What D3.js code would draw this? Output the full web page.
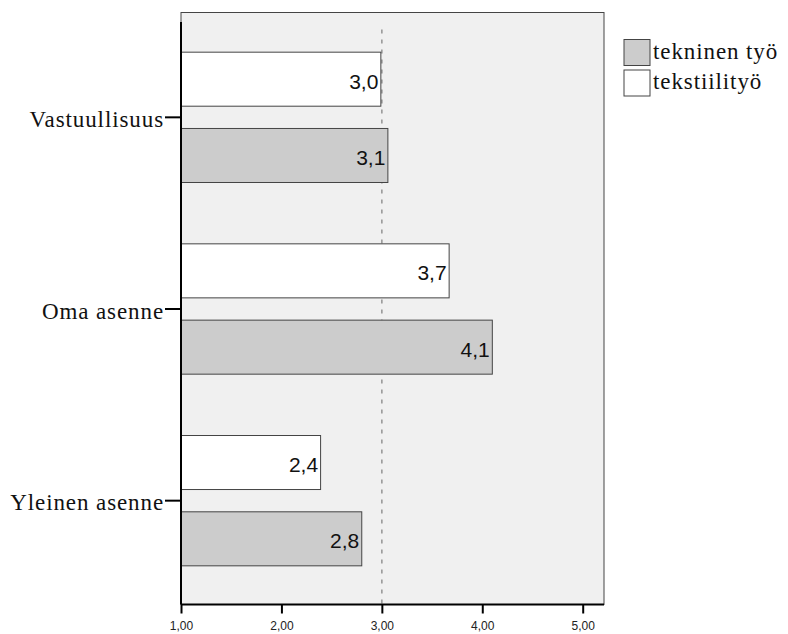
<!DOCTYPE html>
<html>
<head>
<meta charset="utf-8">
<script src="https://cdn.jsdelivr.net/npm/d3@7"></script>
<style>
  body { margin: 0; background: #fff; }
  svg { display: block; }
  .serif { font-family: "Liberation Serif", "Times New Roman", Times, serif; }
  .sans { font-family: "Liberation Sans", Arial, sans-serif; }
</style>
</head>
<body>
<div id="chart"></div>
<script>
// data
var categories = ["Vastuullisuus", "Oma asenne", "Yleinen asenne"];
var seriesNames = ["tekninen työ", "tekstiilityö"];
var tekninen = [3.06, 4.10, 2.80];
var tekstiili = [2.99, 3.67, 2.39];
var xTicks = [1, 2, 3, 4, 5];
var refValue = 3;

var svg = d3.select("#chart")
            .append("svg")
            .attr("width", 788)
            .attr("height", 634);

var x = d3.scaleLinear().domain([1, 5]).range([181, 582.7]);
var y = d3.scaleBand().domain(categories).range([21.5, 596.5]);
// white bar on top, gray bar below
var inner = d3.scaleBand()
              .domain(["tekstiilityö", "tekninen työ"])
              .range([0, y.bandwidth()])
              .paddingInner(0.292)
              .paddingOuter(0.402);

var fills = {"tekninen työ": "#cccccc", "tekstiilityö": "#ffffff"};

var plotLeft = 181, plotRight = 604, plotTop = 12.5, plotBottom = 604.5;

// plot background / frame
svg.append("rect")
   .attr("x", plotLeft)
   .attr("y", plotTop)
   .attr("width", plotRight - plotLeft)
   .attr("height", plotBottom - plotTop)
   .attr("fill", "#f0f0f0")
   .attr("stroke", "#444")
   .attr("stroke-width", 1);

// reference line at 3,00
svg.append("line")
   .attr("x1", x(refValue))
   .attr("x2", x(refValue))
   .attr("y1", y.range()[0] + 8)
   .attr("y2", plotBottom)
   .attr("stroke", "#999")
   .attr("stroke-width", 1.6)
   .attr("stroke-dasharray", "4 6");

var rows = [];
categories.forEach(function(c, i){
  rows.push({cat: c, name: "tekstiilityö", value: tekstiili[i]});
  rows.push({cat: c, name: "tekninen työ", value: tekninen[i]});
});

var fmt = function(v){ return d3.format(".1f")(v).replace(".", ","); };

svg.selectAll("rect.bar")
   .data(rows)
   .enter()
   .append("rect")
   .attr("class", "bar")
   .attr("x", x(1))
   .attr("y", function(d){ return y(d.cat) + inner(d.name); })
   .attr("width", function(d){ return x(d.value) - x(1); })
   .attr("height", inner.bandwidth())
   .attr("fill", function(d){ return fills[d.name]; })
   .attr("stroke", "#444")
   .attr("stroke-width", 1);

svg.selectAll("text.val")
   .data(rows)
   .enter()
   .append("text")
   .attr("class", "val sans")
   .attr("x", function(d){ return x(d.value) - 2.5; })
   .attr("y", function(d){ return y(d.cat) + inner(d.name) + inner.bandwidth() / 2 + 9.5; })
   .attr("text-anchor", "end")
   .style("font-size", "21px")
   .attr("fill", "#111")
   .text(function(d){ return fmt(d.value); });

// x axis
var xAxis = svg.append("g")
   .attr("transform", "translate(0," + plotBottom + ")")
   .call(d3.axisBottom(x)
           .tickValues(xTicks)
           .tickSize(9)
           .tickPadding(8)
           .tickFormat(function(d){ return d3.format(".2f")(d).replace(".", ","); }));
xAxis.attr("font-family", null);
xAxis.select(".domain").remove();
xAxis.selectAll(".tick line").attr("stroke", "#000").attr("stroke-width", 2);
xAxis.selectAll(".tick text")
     .attr("class", "sans")
     .style("font-size", "12px")
     .attr("fill", "#222");

svg.append("line")
   .attr("x1", plotLeft)
   .attr("x2", plotRight)
   .attr("y1", plotBottom)
   .attr("y2", plotBottom)
   .attr("stroke", "#000")
   .attr("stroke-width", 2);

// y axis
var yAxis = svg.append("g")
   .attr("transform", "translate(" + plotLeft + ",0)")
   .call(d3.axisLeft(y).tickSize(16).tickPadding(1));
yAxis.attr("font-family", null);
yAxis.select(".domain").remove();
yAxis.selectAll(".tick line").attr("stroke", "#000").attr("stroke-width", 2);
yAxis.selectAll(".tick text")
     .attr("class", "serif")
     .attr("dy", "9.5")
     .style("font-size", "23px")
     .style("letter-spacing", "0.9px")
     .attr("fill", "#111");

svg.append("line")
   .attr("x1", plotLeft)
   .attr("x2", plotLeft)
   .attr("y1", 22)
   .attr("y2", plotBottom)
   .attr("stroke", "#000")
   .attr("stroke-width", 2);

// legend
var legend = svg.selectAll("g.legend")
   .data(seriesNames)
   .enter()
   .append("g")
   .attr("class", "legend")
   .attr("transform", function(d, i){ return "translate(624," + (39.5 + i * 30.5) + ")"; });

legend.append("rect")
   .attr("width", 26)
   .attr("height", 26)
   .attr("fill", function(d){ return fills[d]; })
   .attr("stroke", "#444");

legend.append("text")
   .attr("class", "serif")
   .attr("x", 29)
   .attr("y", 19)
   .style("font-size", "23px")
   .style("letter-spacing", "0.9px")
   .attr("fill", "#111")
   .text(function(d){ return d; });
</script>
</body>
</html>
